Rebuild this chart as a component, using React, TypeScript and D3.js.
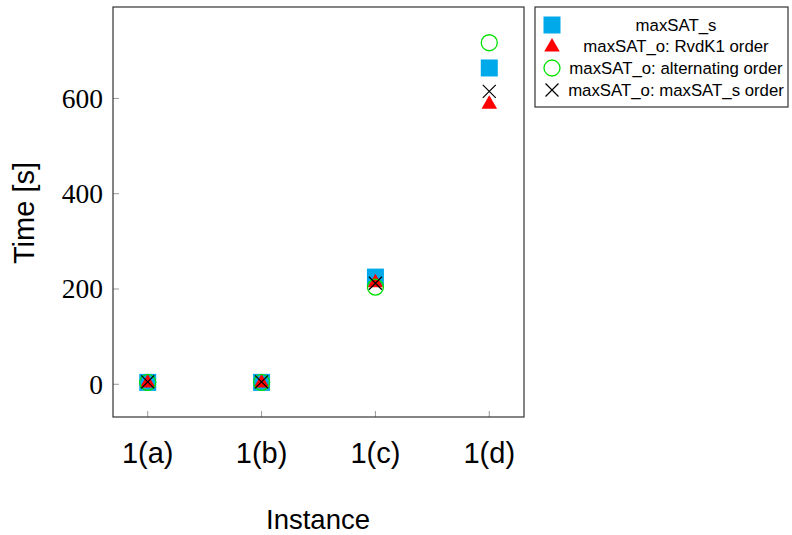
import React from "react";
import * as d3 from "d3";

const categories = ["1(a)", "1(b)", "1(c)", "1(d)"];
const yTicks = [0, 200, 400, 600];
const seriesS = [4, 4, 225, 664];
const seriesRvdK1 = [5, 5, 215, 590];
const seriesAlt = [4, 4, 204, 717];
const seriesSOrder = [5, 5, 212, 615];
const legendLabels = [
  "maxSAT_s",
  "maxSAT_o: RvdK1 order",
  "maxSAT_o: alternating order",
  "maxSAT_o: maxSAT_s order",
];

const W = 792, H = 535;
const L = 113, R = 524, T = 7, B = 417;

export default function App() {
  const x = d3.scaleLinear().domain([0.695, 4.305]).range([L, R]);
  const y = d3.scaleLinear().domain([-68.7, 792]).range([B, T]);
  const cx = (i: number) => x(i + 1);
  const tri = d3.symbol().type(d3.symbolTriangle).size(105);
  const serif = "'Liberation Serif', 'DejaVu Serif', serif";
  const sans = "'Liberation Sans', Arial, sans-serif";

  const square = (px: number, py: number, k: string) => (
    <rect key={k} x={px - 8.5} y={py - 8.5} width={17} height={17} fill="#00a9ea" />
  );
  const triangle = (px: number, py: number, k: string) => (
    <path key={k} d={tri()!} transform={`translate(${px},${py + 1})`} fill="#ff0000" />
  );
  const circle = (px: number, py: number, k: string) => (
    <circle key={k} cx={px} cy={py} r={8} fill="none" stroke="#00e000" strokeWidth={1.3} />
  );
  const cross = (px: number, py: number, k: string) => (
    <path key={k} d={`M${px - 6.5},${py - 6.5}L${px + 6.5},${py + 6.5}M${px - 6.5},${py + 6.5}L${px + 6.5},${py - 6.5}`} stroke="#000" strokeWidth={1.2} />
  );

  const legendY = [25, 46, 68, 90];
  const markers = [square, triangle, circle, cross];

  return (
    <svg width={W} height={H} style={{ position: "absolute", left: 0, top: 0 }}>
      <rect x={0} y={0} width={W} height={H} fill="#fff" />
      {yTicks.map((t) => (
        <g key={"yt" + t}>
          <line x1={L} x2={L + 6} y1={y(t)} y2={y(t)} stroke="#999" strokeWidth={1} />
          <text x={103} y={y(t)} dy="0.34em" textAnchor="end" fontFamily={serif} fontSize={27.5}>{t}</text>
        </g>
      ))}
      {categories.map((c, i) => (
        <g key={"xt" + c}>
          <line x1={cx(i)} x2={cx(i)} y1={B} y2={B - 6} stroke="#999" strokeWidth={1} />
          <text x={cx(i)} y={463} textAnchor="middle" fontFamily={sans} fontSize={29}>{c}</text>
        </g>
      ))}
      {seriesS.map((v, i) => square(cx(i), y(v), "s" + i))}
      {seriesRvdK1.map((v, i) => triangle(cx(i), y(v), "t" + i))}
      {seriesAlt.map((v, i) => circle(cx(i), y(v), "c" + i))}
      {seriesSOrder.map((v, i) => cross(cx(i), y(v), "x" + i))}
      <rect x={L} y={T} width={R - L} height={B - T} fill="none" stroke="#333" strokeWidth={1.2} />
      <text x={318} y={529} textAnchor="middle" fontFamily={sans} fontSize={27.5}>Instance</text>
      <text transform={`translate(34,213) rotate(-90)`} textAnchor="middle" fontFamily={sans} fontSize={29}>Time [s]</text>
      <rect x={535} y={7} width={253} height={100} fill="#fff" stroke="#333" strokeWidth={1.2} />
      {legendLabels.map((lab, i) => (
        <g key={"lg" + i}>
          {markers[i](552, legendY[i], "lm" + i)}
          <text x={676} y={legendY[i]} dy="0.35em" textAnchor="middle" fontFamily={sans} fontSize={16.8}>{lab}</text>
        </g>
      ))}
    </svg>
  );
}
